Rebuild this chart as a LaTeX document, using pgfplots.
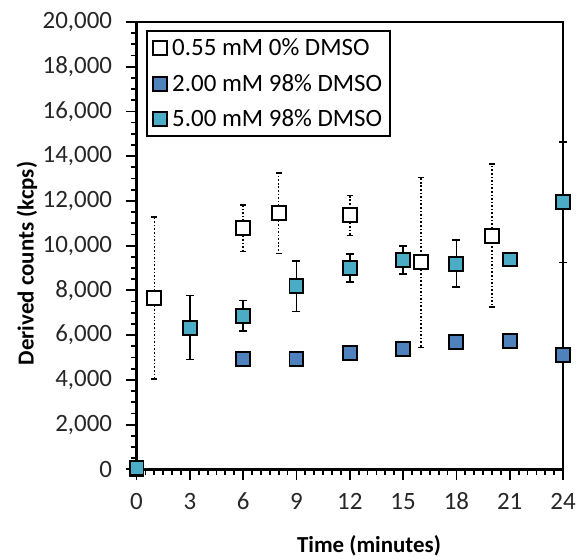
\documentclass[border=0pt]{standalone}
\usepackage{pgfplots}
\pgfplotsset{compat=1.18}
\usepackage{fontspec}
\setmainfont{Carlito}
\definecolor{sblue}{HTML}{4F81BD}
\definecolor{scyan}{HTML}{4BACC6}
\begin{document}
\begin{tikzpicture}
\begin{axis}[
  name=ax,
  scale only axis, width=428pt, height=449pt,
  xmin=0, xmax=24, ymin=0, ymax=20000,
  xtick={0,3,...,24}, ytick={0,2000,...,20000},
  minor x tick num=5, minor y tick num=3,
  tick pos=left, tick align=outside,
  major tick length=11pt, minor tick length=6pt,
  every tick/.style={black, line width=1.8pt},
  axis line style={line width=2.5pt},
  scaled y ticks=false,
  /pgf/number format/.cd, 1000 sep={,}, assume math mode=true,
  /pgfplots/.cd,
  tick label style={font=\fontsize{25}{29}\selectfont, text=black!85},
  xticklabel style={anchor=center, yshift=-21pt},
  yticklabel style={anchor=east, xshift=-10pt},
  xlabel={\textbf{Time (minutes)}},
  ylabel={\textbf{Derived counts (kcps)}},
  every axis x label/.style={at={(axis description cs:0.545,0)}, anchor=center, yshift=-77pt, font=\fontsize{23}{27}\selectfont},
  every axis y label/.style={at={(axis description cs:0,0.46)}, xshift=-110pt, rotate=90, anchor=center, font=\fontsize{23}{27}\selectfont},
  clip=false,
  legend style={at={(0.023,0.982)}, anchor=north west, draw=black, line width=2pt,
    font=\fontsize{25}{29}\selectfont, row sep=13pt, inner sep=6pt},
  legend cell align=left,
]
\addplot[only marks, mark=square*, mark size=7pt,
  mark options={fill=white, draw=black, line width=2pt},
  error bars/.cd, y dir=both, y explicit,
  error bar style={line width=1.6pt, dotted},
  error mark options={rotate=90, mark size=3pt, line width=1.6pt}]
  table[x=x, y=y, y error=e] {
x y e
1 7650 3620
6 10780 1050
8 11450 1800
12 11350 900
16 9250 3800
20 10450 3200
};
\addlegendentry{\hspace{3pt}0.55 mM 0\% DMSO}
\addplot[only marks, mark=square*, mark size=7pt,
  mark options={fill=sblue, draw=black, line width=2pt}]
  table[x=x, y=y] {
x y
0 0
6 4950
9 4920
12 5210
15 5390
18 5700
21 5740
24 5100
};
\addlegendentry{\hspace{3pt}2.00 mM 98\% DMSO}
\addplot[only marks, mark=square*, mark size=7pt,
  mark options={fill=scyan, draw=black, line width=2pt},
  error bars/.cd, y dir=both, y explicit,
  error bar style={line width=1.8pt, solid},
  error mark options={rotate=90, mark size=4pt, line width=1.8pt}]
  table[x=x, y=y, y error=e] {
x y e
0 60 0
3 6340 1430
6 6870 680
9 8180 1120
12 9000 630
15 9350 630
18 9200 1050
21 9380 0
24 11950 2700
};
\addlegendentry{\hspace{3pt}5.00 mM 98\% DMSO}
\end{axis}
\path (ax.south west) ++(-137pt,-87pt) rectangle ++(579pt,558pt);
\end{tikzpicture}
\end{document}
